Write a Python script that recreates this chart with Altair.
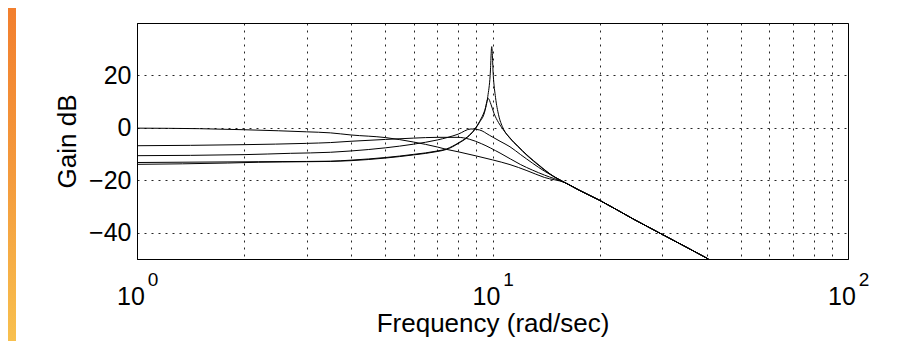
import altair as alt
import pandas as pd

# ---- data (frequency in rad/s, gain in dB) ----
tail_w = [17.5, 20, 25, 30, 35, 40.5]
tail_g = [-23.7, -27.6, -34.9, -40.6, -45.4, -50.0]

c1_w = [1, 1.5, 2, 2.5, 3, 3.5, 4, 5, 6, 7, 7.43, 8, 9, 10, 11.2, 12.5, 14, 16]
c1_g = [-0.1, -0.3, -0.7, -1.1, -1.5, -1.9, -2.7, -3.7, -5.4, -7.3, -8.2, -9.1, -10.7, -12.2, -14.0, -16.3, -18.9, -20.9]

c2_w = [1, 2, 3, 3.5, 4, 5, 6, 7, 8, 8.6, 9.3, 10.5, 12, 14, 16]
c2_g = [-6.8, -6.4, -5.9, -5.6, -5.1, -4.4, -3.9, -3.6, -3.6, -4.3, -6.0, -9.6, -14.0, -18.0, -20.9]

c3_w = [1, 2, 2.7, 3.5, 4, 5, 6, 7, 8, 8.7, 9.2, 9.8, 10.5, 11.2, 12, 14, 16]
c3_g = [-10.6, -10.2, -9.7, -9.3, -8.8, -7.6, -6.2, -4.6, -2.4, -0.4, -0.8, -2.8, -5.1, -7.2, -10.2, -16.5, -20.9]

c4_w = [1, 2.2, 3, 3.5, 4, 5, 6, 7, 7.43, 8, 8.5, 8.9, 9.2, 9.5, 9.73, 9.9, 10.1, 10.4, 10.7, 11.2, 11.8, 12.5, 13.6, 14.5, 16]
c4_g = [-13.2, -12.9, -12.8, -12.7, -12.3, -11.3, -10.1, -8.8, -8.0, -5.8, -3.4, -0.6, 2.5, 6.5, 11.2, 9.0, 5.5, 2.0, -0.5, -4.0, -7.2, -10.5, -14.7, -17.6, -20.9]

c5_w = [1, 1.8, 2.2, 3, 3.5, 4, 5, 6, 7, 7.43, 8, 8.5, 8.9, 9.2, 9.5, 9.7, 9.85, 9.95, 10.05, 10.2, 10.4, 10.7, 11.2, 11.8, 12.5, 13.6, 14.5, 16]
c5_g = [-13.9, -13.4, -13.1, -12.9, -12.8, -12.5, -11.5, -10.3, -9.0, -8.2, -6.0, -3.6, -0.8, 2.2, 6.0, 12.0, 20.0, 31.0, 20.0, 11.5, 5.0, 0.0, -3.8, -7.0, -10.3, -14.5, -17.5, -20.9]

curves = {"c1": (c1_w, c1_g), "c2": (c2_w, c2_g), "c3": (c3_w, c3_g),
          "c4": (c4_w, c4_g), "c5": (c5_w, c5_g)}

x_grid_values = [1, 2, 3, 4, 5, 6, 7, 8, 9, 10, 20, 30, 40, 50, 60, 70, 80, 90, 100]
y_tick_values = [-40, -20, 0, 20]
label_pos = [1, 10, 100]
label_base = ["10", "10", "10"]
label_exp = ["0", "1", "2"]

rows = []
for name, (w, g) in curves.items():
    ww = list(w) + tail_w
    gg = list(g) + tail_g
    for i, (a, b) in enumerate(zip(ww, gg)):
        rows.append({"series": name, "order": i, "w": a, "g": b})
df = pd.DataFrame(rows)

W, H = 711, 236
FONT = "Liberation Sans"

x_scale = alt.Scale(type="log", domain=[1, 100], nice=False)
y_scale = alt.Scale(domain=[-50, 40], nice=False, zero=False)

lines = alt.Chart(df).mark_line(color="#000000", strokeWidth=1, clip=True,
                                interpolate="monotone").encode(
    x=alt.X("w:Q", scale=x_scale,
            axis=alt.Axis(values=x_grid_values, title="Frequency (rad/sec)",
                          labels=False, titlePadding=51)),
    y=alt.Y("g:Q", scale=y_scale,
            axis=alt.Axis(values=y_tick_values, title="Gain dB", labelPadding=6,
                          titlePadding=8)),
    detail="series:N",
    order="order:Q",
)

lab_df = pd.DataFrame({"w": label_pos, "b": label_base, "e": label_exp})
bases = alt.Chart(lab_df).mark_text(font=FONT, fontSize=25, align="center",
                                    baseline="alphabetic", dx=-6, color="#000000").encode(
    x=alt.X("w:Q", scale=x_scale),
    y=alt.value(282),
    text="b:N",
)
exps = alt.Chart(lab_df).mark_text(font=FONT, fontSize=19, align="center",
                                   baseline="alphabetic", dx=16, color="#000000").encode(
    x=alt.X("w:Q", scale=x_scale),
    y=alt.value(263),
    text="e:N",
)

strip = alt.Chart(pd.DataFrame({"k": [0]})).mark_rect(
    color=alt.Gradient(gradient="linear", x1=0, x2=0, y1=0, y2=1,
                       stops=[alt.GradientStop(color="#f27f2e", offset=0),
                              alt.GradientStop(color="#f49a3c", offset=0.5),
                              alt.GradientStop(color="#f8c04e", offset=1)])
).encode(x=alt.value(-129), x2=alt.value(-121), y=alt.value(-15), y2=alt.value(318))

chart = alt.layer(strip, lines, bases, exps).properties(
    width=W, height=H,
    padding={"left": 129, "top": 15, "right": 53, "bottom": 82},
    autosize=alt.AutoSizeParams(type="none"),
    background="white",
).configure_view(stroke="#000000", strokeWidth=1).configure_axis(
    labelFont=FONT, titleFont=FONT, labelFontSize=25, titleFontSize=26,
    labelColor="#000000", titleColor="#000000", titleFontWeight="normal",
    domainColor="#000000", ticks=False, tickSize=0,
    grid=True, gridColor="#000000", gridDash=[2, 5], gridOpacity=0.85, gridWidth=1,
)

chart.save("out.html", embed_options={"renderer": "svg", "actions": False})
